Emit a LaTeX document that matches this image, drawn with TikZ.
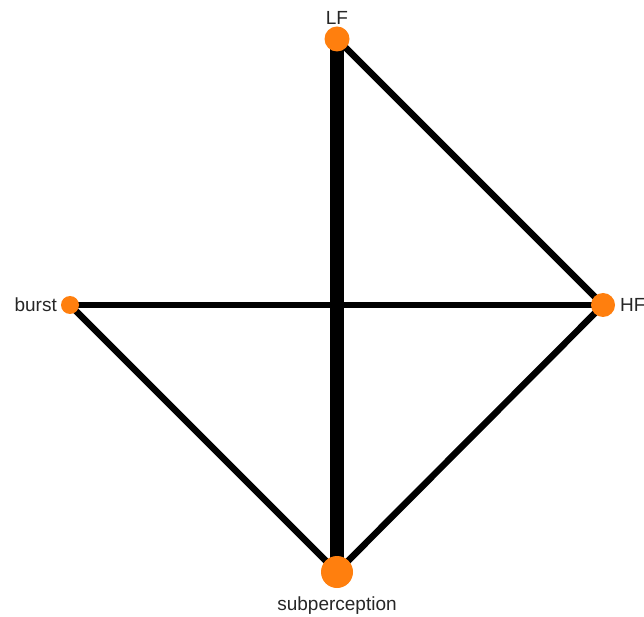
\documentclass[tikz,border=0pt]{standalone}
\usepackage{fontspec}
\setmainfont{Liberation Sans}
\definecolor{nodeorange}{RGB}{255,127,14}
\begin{document}
\begin{tikzpicture}[x=1pt,y=1pt,
  vert/.style={circle,fill=nodeorange,inner sep=0pt,draw=none},
  lbl/.style={font=\fontsize{19}{22}\selectfont,inner sep=0pt,text=black!85},
  edge/.style={line width=6.5pt,black},
  thickedge/.style={line width=14pt,black}]
\useasboundingbox (0,0) rectangle (644,616);
\coordinate (LF) at (337,577);
\coordinate (HF) at (603,311);
\coordinate (burst) at (70,311);
\coordinate (sub) at (337,44);
\draw[thickedge] (LF) -- (sub);
\draw[edge] (LF) -- (HF);
\draw[edge] (burst) -- (HF);
\draw[edge] (burst) -- (sub);
\draw[edge] (HF) -- (sub);
\node[vert,minimum size=25pt] (nLF) at (LF) {};
\node[vert,minimum size=24pt] (nHF) at (HF) {};
\node[vert,minimum size=18pt] (nburst) at (burst) {};
\node[vert,minimum size=32pt] (nsub) at (sub) {};
\node[lbl,anchor=base] (tLF) at (337,591) {LF};
\node[lbl,anchor=base west] (tHF) at (620,304) {HF};
\node[lbl,anchor=base east] (tburst) at (57,304) {burst};
\node[lbl,anchor=base] (tsub) at (337,6) {subperception};
\end{tikzpicture}
\end{document}
